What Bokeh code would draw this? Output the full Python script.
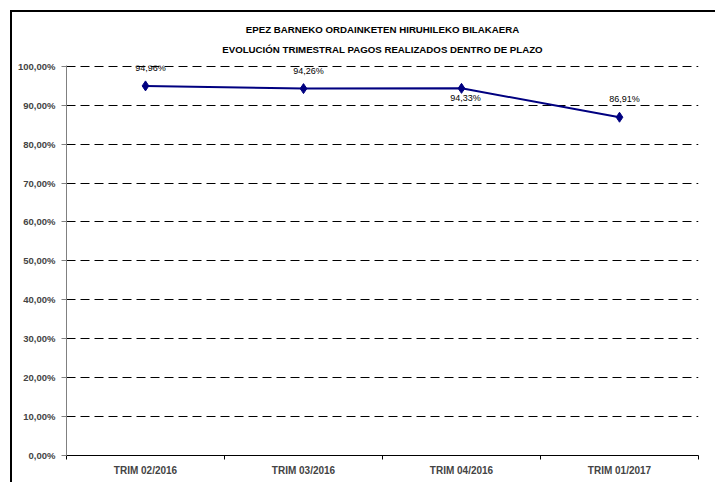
from bokeh.plotting import figure
from bokeh.models import (CustomJSTickFormatter, FixedTicker, Title,
                          ColumnDataSource, Range1d, LinearAxis)
from bokeh.core.properties import value
from bokeh.embed import file_html
from bokeh.resources import INLINE

title_lines = ["EPEZ BARNEKO ORDAINKETEN HIRUHILEKO BILAKAERA",
               "EVOLUCIÓN TRIMESTRAL PAGOS REALIZADOS DENTRO DE PLAZO"]
categories = ["TRIM 02/2016", "TRIM 03/2016", "TRIM 04/2016", "TRIM 01/2017"]
values = [94.96, 94.26, 94.33, 86.91]
label_below = [False, False, True, False]
y_ticks = [0, 10, 20, 30, 40, 50, 60, 70, 80, 90, 100]

FONT = "Liberation Sans"
W, H = 715, 482
ML, MT, MB = 66, 65, 27

n = len(categories)
slot = [i + 0.5 for i in range(n)]          # category centres on the slot axis

p = figure(width=W, height=H, x_range=Range1d(0, n), y_range=Range1d(0, 100.2),
           output_backend="svg", toolbar_location=None, x_axis_location=None,
           min_border_left=ML, min_border_right=W - 698, min_border_top=MT,
           min_border_bottom=MB)
p.outline_line_color = None
p.background_fill_color = "white"
p.border_fill_alpha = 0
# outer chart border (left and top edges; the rest runs off the page)
p.styles = {
    "background-color": "white",
    "background-image": "linear-gradient(black, black), linear-gradient(black, black)",
    "background-position": "10px 10px, 10px 10px",
    "background-size": "2px 100%, 100% 2px",
    "background-repeat": "no-repeat, no-repeat",
}

# grid
p.xgrid.grid_line_color = None
p.ygrid.grid_line_color = "black"
p.ygrid.grid_line_dash = "9 5"
p.ygrid.grid_line_width = 1

# y axis
p.yaxis.ticker = FixedTicker(ticks=y_ticks)
p.yaxis.formatter = CustomJSTickFormatter(code="return tick.toFixed(2).replace('.', ',') + '%';")
p.yaxis.axis_line_color = "#808080"
p.yaxis.major_tick_line_color = "#808080"
p.yaxis.major_tick_out = 5
p.yaxis.major_tick_in = 0
p.yaxis.minor_tick_line_color = None
p.yaxis.major_label_text_font = FONT
p.yaxis.major_label_text_font_style = "bold"
p.yaxis.major_label_text_font_size = "9.5px"
p.yaxis.major_label_standoff = 6

# x axis: labels at category centres, tick marks at category boundaries
xax = LinearAxis(ticker=FixedTicker(ticks=slot, minor_ticks=list(range(n + 1))),
                 formatter=CustomJSTickFormatter(args=dict(labels=categories),
                                                 code="return labels[Math.floor(tick)];"))
xax.axis_line_color = "black"
xax.major_tick_line_color = None
xax.major_tick_out = 0
xax.major_tick_in = 0
xax.minor_tick_line_color = "black"
xax.minor_tick_out = 4
xax.minor_tick_in = 0
xax.major_label_text_font = FONT
xax.major_label_text_font_style = "bold"
xax.major_label_text_font_size = "10px"
xax.major_label_standoff = 5
p.add_layout(xax, "below")

src = ColumnDataSource(dict(x=slot, y=values))
p.line("x", "y", source=src, line_color="#000080", line_width=2)
p.scatter("x", "y", source=src, marker="diamond", size=10,
          fill_color="#000080", line_color="#000080")

def fmt(v):
    return f"{v:.2f}".replace(".", ",") + "%"

above = ColumnDataSource(dict(
    x=[s for s, b in zip(slot, label_below) if not b],
    y=[v for v, b in zip(values, label_below) if not b],
    t=[fmt(v) for v, b in zip(values, label_below) if not b]))
below = ColumnDataSource(dict(
    x=[s for s, b in zip(slot, label_below) if b],
    y=[v for v, b in zip(values, label_below) if b],
    t=[fmt(v) for v, b in zip(values, label_below) if b]))
p.text("x", "y", text="t", source=above, x_offset=5, y_offset=-13,
       text_align="center", text_baseline="bottom",
       text_font=value(FONT), text_font_size="9px", text_color="black")
p.text("x", "y", text="t", source=below, x_offset=4, y_offset=5,
       text_align="center", text_baseline="top",
       text_font=value(FONT), text_font_size="9px", text_color="black")

# two-line title, each line centred (panel nearest the frame is added first)
for line, standoff in zip(reversed(title_lines), [21, -6]):
    p.add_layout(Title(text=line, align="center", offset=-25, standoff=standoff,
                       text_font=FONT, text_font_style="bold", text_font_size="9.7px",
                       text_color="black"), "above")

open("out.html", "w").write(file_html(p, INLINE))
